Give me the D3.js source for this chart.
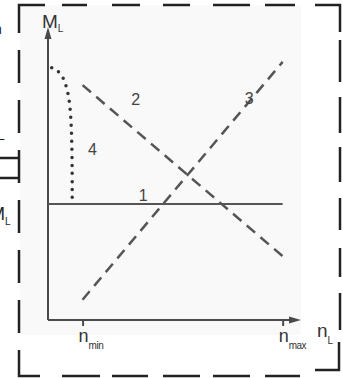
<!DOCTYPE html>
<html>
<head>
<meta charset="utf-8">
<script src="https://cdn.jsdelivr.net/npm/d3@7"></script>
<style>
  body { margin: 0; background: #fff; }
  svg { display: block; font-family: "Liberation Sans", Arial, sans-serif; }
  .curveLabel { font-size: 16px; fill: #444; }
  .axisText { fill: #333; }
</style>
</head>
<body>
<div id="chart"></div>
<script>
var svgWidth = 343;
var svgHeight = 378;

// speed n_L (0-100) vs torque M_L (0-100)
var tickNames = ["min", "max"];
var tickValues = [14, 95];

var line1 = [{n: 0, m: 40}, {n: 95, m: 40}];
var line2 = [{n: 14, m: 81}, {n: 95, m: 22}];
var line3 = [{n: 14, m: 7}, {n: 95, m: 89}];
var line4 = [
  {n: 1.5, m: 87}, {n: 5, m: 85.5}, {n: 7, m: 82}, {n: 8.5, m: 77},
  {n: 9.3, m: 70}, {n: 9.7, m: 60}, {n: 9.8, m: 50}, {n: 9.8, m: 42}
];

var labelTexts = ["1", "2", "3", "4"];
var labelN = [38.5, 35.5, 81.5, 18];
var labelM = [42.5, 75.5, 76, 58.5];

var margin = {top: 30, right: 48, bottom: 58, left: 48};
var width = svgWidth - margin.left - margin.right;
var height = svgHeight - margin.top - margin.bottom;

var svg = d3.select("#chart")
  .append("svg")
  .attr("width", svgWidth)
  .attr("height", svgHeight);

// faint grey paper behind the frame
svg.append("rect")
  .attr("x", 20).attr("y", 5)
  .attr("width", 281).attr("height", 330)
  .attr("fill", "#f9f9f9");

// dashed frame with solid corners
var frame = svg.append("g")
  .attr("stroke", "#222")
  .attr("stroke-width", 2.5)
  .attr("fill", "none");

frame.append("path").attr("d", "M19,33 V5 H45");
frame.append("path").attr("d", "M315,5 H340 V32");
frame.append("path").attr("d", "M19,350 V376 H40");
frame.append("path").attr("d", "M315,370 H339 V342");

var leftDashes = [[50, 83], [100, 133], [150, 183], [200, 233], [250, 283], [300, 333]];
var rightDashes = [[40, 82], [97, 133], [147, 182], [198, 230], [248, 277], [293, 330]];
var topDashes = [[62, 87], [112, 140], [163, 190], [213, 250], [265, 295]];
var bottomDashes = [[62, 100], [112, 148], [163, 200], [213, 250], [265, 300]];

leftDashes.forEach(function(d) {
  frame.append("line").attr("x1", 19).attr("x2", 19).attr("y1", d[0]).attr("y2", d[1]);
});
rightDashes.forEach(function(d) {
  frame.append("line").attr("x1", 340).attr("x2", 340).attr("y1", d[0]).attr("y2", d[1]);
});
topDashes.forEach(function(d) {
  frame.append("line").attr("y1", 5).attr("y2", 5).attr("x1", d[0]).attr("x2", d[1]);
});
bottomDashes.forEach(function(d) {
  frame.append("line").attr("y1", 376).attr("y2", 376).attr("x1", d[0]).attr("x2", d[1]);
});

// bits of the neighbouring figure cut off at the left edge
frame.append("line").attr("x1", 0).attr("x2", 19).attr("y1", 158).attr("y2", 158);
frame.append("line").attr("x1", 0).attr("x2", 19).attr("y1", 178).attr("y2", 178);
svg.append("text").attr("x", -6).attr("y", 34).attr("font-size", 14).attr("fill", "#222").text("n");
svg.append("text").attr("x", -3).attr("y", 140).attr("font-size", 14).attr("fill", "#222").text("L");
var cutM = svg.append("text").attr("x", -10).attr("y", 220).attr("font-size", 18).attr("fill", "#222");
cutM.append("tspan").text("M");
cutM.append("tspan").attr("font-size", 10).attr("dy", 5).text("L");

var chart = svg.append("g")
  .attr("transform", `translate(${margin.left}, ${margin.top})`);

var xLinear = d3.scaleLinear().domain([0, 100]).range([0, width]);
var yLinear = d3.scaleLinear().domain([0, 100]).range([height, 0]);

// axes with arrowheads
var axisColor = "#4a4a4a";
var bottomAxis = d3.axisBottom(xLinear)
  .tickValues(tickValues)
  .tickSize(6)
  .tickFormat("");
var xAxis = chart.append("g")
  .attr("transform", `translate(0, ${height})`)
  .call(bottomAxis);
xAxis.select(".domain").attr("stroke", axisColor).attr("stroke-width", 2).attr("d", `M0,0H${width}`);
xAxis.selectAll(".tick line").attr("stroke", axisColor).attr("stroke-width", 2);

chart.append("line")
  .attr("x1", 0).attr("x2", 0)
  .attr("y1", height).attr("y2", 0)
  .attr("stroke", axisColor).attr("stroke-width", 2);

chart.append("path")
  .attr("d", `M${width + 6},${height} L${width - 6},${height - 3.5} L${width - 6},${height + 3.5} Z`)
  .attr("fill", axisColor);
chart.append("path")
  .attr("d", "M0,-3 L-3.5,9 L3.5,9 Z")
  .attr("fill", axisColor);

// tick labels n_min / n_max
tickValues.forEach(function(v, i) {
  var t = chart.append("text")
    .attr("class", "axisText")
    .attr("x", xLinear(v) - 4)
    .attr("y", height + 22)
    .attr("font-size", 18);
  t.append("tspan").text("n");
  t.append("tspan").attr("font-size", 10).attr("dy", 7).attr("letter-spacing", -0.5).text(tickNames[i]);
});

var nL = chart.append("text")
  .attr("class", "axisText")
  .attr("x", width + 22)
  .attr("y", height + 17)
  .attr("font-size", 19);
nL.append("tspan").text("n");
nL.append("tspan").attr("font-size", 10).attr("dy", 7).text("L");

var mL = chart.append("text")
  .attr("class", "axisText")
  .attr("x", -6)
  .attr("y", -2)
  .attr("font-size", 19);
mL.append("tspan").text("M");
mL.append("tspan").attr("font-size", 10).attr("dy", 4).text("L");

// characteristic lines
var lineGen = d3.line()
  .x(d => xLinear(d.n))
  .y(d => yLinear(d.m));
var curveGen = d3.line()
  .x(d => xLinear(d.n))
  .y(d => yLinear(d.m))
  .curve(d3.curveBasis);

var lineColor = "#555";

chart.append("path")
  .datum(line1)
  .attr("d", lineGen)
  .attr("fill", "none")
  .attr("stroke", lineColor)
  .attr("stroke-width", 2);

chart.append("path")
  .datum(line2)
  .attr("d", lineGen)
  .attr("fill", "none")
  .attr("stroke", lineColor)
  .attr("stroke-width", 2.5)
  .attr("stroke-dasharray", "11,7");

chart.append("path")
  .datum(line3)
  .attr("d", lineGen)
  .attr("fill", "none")
  .attr("stroke", lineColor)
  .attr("stroke-width", 2.5)
  .attr("stroke-dasharray", "11,7");

chart.append("path")
  .datum(line4)
  .attr("d", curveGen)
  .attr("fill", "none")
  .attr("stroke", "#333")
  .attr("stroke-width", 3.5)
  .attr("stroke-linecap", "round")
  .attr("stroke-dasharray", "0,8");

chart.selectAll("text.curveLabel")
  .data(labelTexts)
  .enter()
  .append("text")
  .attr("class", "curveLabel")
  .attr("x", (d, i) => xLinear(labelN[i]))
  .attr("y", (d, i) => yLinear(labelM[i]))
  .attr("text-anchor", "middle")
  .attr("dominant-baseline", "middle")
  .text(d => d);
</script>
</body>
</html>
